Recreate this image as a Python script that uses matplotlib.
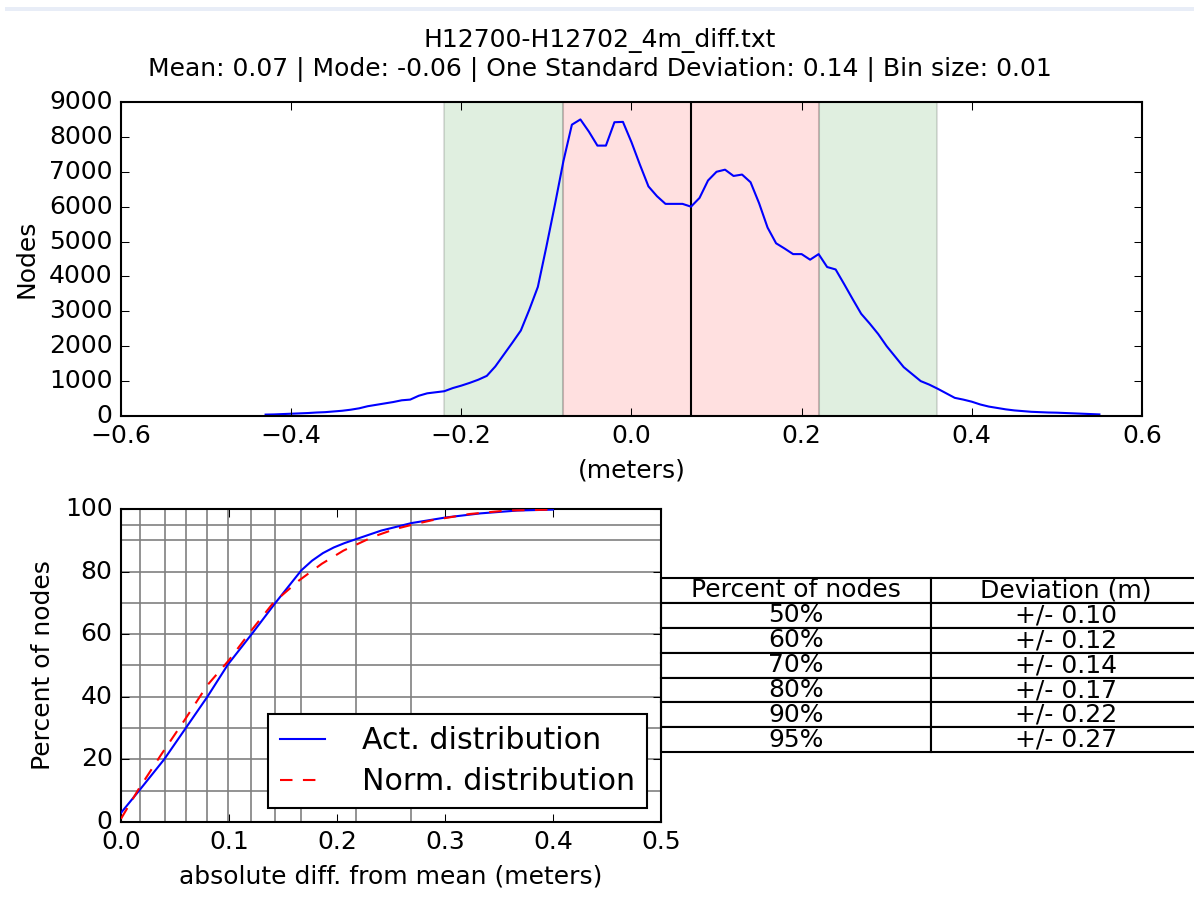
import matplotlib
matplotlib.use("Agg")
import matplotlib.pyplot as plt
from matplotlib.patches import Rectangle
import numpy as np

# histogram of differences (bin centres, node counts)
bin_centers = [-0.43, -0.42, -0.41, -0.40, -0.39, -0.38, -0.37, -0.36, -0.35, -0.34,
               -0.33, -0.32, -0.31, -0.30, -0.29, -0.28, -0.27, -0.26, -0.25, -0.24,
               -0.23, -0.22, -0.21, -0.20, -0.19, -0.18, -0.17, -0.16, -0.15, -0.14,
               -0.13, -0.12, -0.11, -0.10, -0.09, -0.08, -0.07, -0.06, -0.05, -0.04,
               -0.03, -0.02, -0.01, 0.00, 0.01, 0.02, 0.03, 0.04, 0.05, 0.06,
               0.07, 0.08, 0.09, 0.10, 0.11, 0.12, 0.13, 0.14, 0.15, 0.16,
               0.17, 0.18, 0.19, 0.20, 0.21, 0.22, 0.23, 0.24, 0.25, 0.26,
               0.27, 0.28, 0.29, 0.30, 0.31, 0.32, 0.33, 0.34, 0.35, 0.36,
               0.37, 0.38, 0.39, 0.40, 0.41, 0.42, 0.43, 0.44, 0.45, 0.46,
               0.47, 0.48, 0.49, 0.50, 0.51, 0.52, 0.53, 0.54, 0.55]
node_counts = [40, 45, 55, 65, 75, 85, 100, 110, 130, 150,
               180, 220, 280, 320, 360, 400, 450, 470, 580, 650,
               680, 710, 800, 870, 950, 1040, 1150, 1420, 1760, 2100,
               2450, 3050, 3700, 4850, 6050, 7300, 8350, 8500, 8150, 7750,
               7750, 8420, 8430, 7850, 7200, 6580, 6300, 6080, 6080, 6080,
               6000, 6250, 6750, 7000, 7060, 6880, 6920, 6700, 6100, 5400,
               4950, 4800, 4640, 4640, 4480, 4640, 4270, 4200, 3780, 3350,
               2930, 2650, 2350, 2000, 1700, 1400, 1200, 1000, 900, 780,
               650, 520, 470, 410, 330, 270, 230, 190, 160, 140,
               120, 110, 100, 95, 85, 75, 65, 55, 45]

mean = 0.07
one_sigma = (-0.08, 0.221)
two_sigma = (-0.22, 0.359)

# cumulative distributions
act_x = [0.0, 0.0175, 0.040, 0.060, 0.080, 0.099, 0.121, 0.143, 0.167, 0.177,
         0.187, 0.197, 0.207, 0.218, 0.241, 0.269, 0.301, 0.333, 0.367, 0.40]
act_y = [2.9, 10.3, 20.0, 30.0, 40.0, 50.3, 60.0, 70.0, 80.4, 83.5,
         85.9, 87.7, 89.1, 90.4, 93.1, 95.5, 97.3, 98.6, 99.5, 99.8]
norm_x = [0.0, 0.016, 0.037, 0.059, 0.080, 0.100, 0.121, 0.141, 0.165, 0.186,
          0.206, 0.234, 0.254, 0.270, 0.288, 0.323, 0.357, 0.40]
norm_y = [1.0, 10.3, 21.4, 32.6, 43.7, 51.7, 61.3, 70.0, 77.2, 82.5,
          86.7, 91.2, 93.6, 95.0, 96.4, 98.4, 99.5, 99.8]

percents = [10, 20, 30, 40, 50, 60, 70, 80, 90, 95]
deviations = [0.0175, 0.0404, 0.0602, 0.0797, 0.0992, 0.1208, 0.143, 0.167, 0.2177, 0.269]

table_pct = ["50%", "60%", "70%", "80%", "90%", "95%"]
table_dev = ["+/- 0.10", "+/- 0.12", "+/- 0.14", "+/- 0.17", "+/- 0.22", "+/- 0.27"]

plt.style.use("classic")
plt.rcParams["font.family"] = ["DejaVu Sans"]
plt.rcParams["font.size"] = 12

fig = plt.figure(figsize=(1194 / 150, 901 / 150), dpi=150, facecolor="white")
# thin band from the screenshot's top edge
fig.patches.append(Rectangle((5 / 1194, 1 - 11 / 901), 1, 4 / 901, transform=fig.transFigure,
                             facecolor="#e8edf7", edgecolor="none"))
fig.suptitle("H12700-H12702_4m_diff.txt\n"
             "Mean: 0.07 | Mode: -0.06 | One Standard Deviation: 0.14 | Bin size: 0.01",
             fontsize=12, x=0.502, y=0.969, va="top")

ax1 = fig.add_axes([0.1013, 0.5383, 0.8551, 0.3485])
ax1.axvspan(two_sigma[0], one_sigma[0], facecolor="g", edgecolor=(0, 0, 0, 0.25), alpha=0.12, lw=1)
ax1.axvspan(one_sigma[1], two_sigma[1], facecolor="g", edgecolor=(0, 0, 0, 0.25), alpha=0.12, lw=1)
ax1.axvspan(one_sigma[0], one_sigma[1], facecolor="r", edgecolor=(0, 0, 0, 0.25), alpha=0.12, lw=1)
ax1.axvline(mean, color="k", lw=1)
ax1.plot(bin_centers, node_counts, color="b", lw=1)
ax1.set_xlim(-0.6, 0.6)
ax1.set_ylim(0, 9000)
ax1.set_xticks(np.arange(-0.6, 0.61, 0.2))
ax1.set_yticks(np.arange(0, 9001, 1000))
ax1.set_xlabel("(meters)")
ax1.set_ylabel("Nodes")

ax2 = fig.add_axes([0.1013, 0.0877, 0.4523, 0.3474])
for p in percents:
    ax2.axhline(p, color="#808080", lw=0.8, zorder=1)
for d in deviations:
    ax2.axvline(d, color="#808080", lw=0.8, zorder=1)
ax2.plot(act_x, act_y, color="b", lw=1, label="Act. distribution", zorder=3)
ax2.plot(norm_x, norm_y, color="r", lw=1, ls="--", dashes=(6, 5),
         label="Norm. distribution", zorder=3)
ax2.set_xlim(0, 0.5)
ax2.set_ylim(0, 100)
ax2.set_xticks(np.arange(0, 0.51, 0.1))
ax2.set_yticks(np.arange(0, 101, 20))
ax2.set_xlabel("absolute diff. from mean (meters)")
ax2.set_ylabel("Percent of nodes")
leg = ax2.legend(loc="lower right", fontsize=14.4, handlelength=1.5, handletextpad=1.25,
                 borderaxespad=0.45, labelspacing=0.4, numpoints=1)

tbl = ax2.table(cellText=[[a, b] for a, b in zip(table_pct, table_dev)],
                colLabels=["Percent of nodes", "Deviation (m)"],
                cellLoc="center", bbox=[1.0, 0.2227, 1.0, 0.557])
tbl.auto_set_font_size(False)
tbl.set_fontsize(12)
for cell in tbl.get_celld().values():
    cell.set_linewidth(1.0)
    cell.set_edgecolor("k")

fig.savefig("out.png", dpi=150, facecolor="white")
